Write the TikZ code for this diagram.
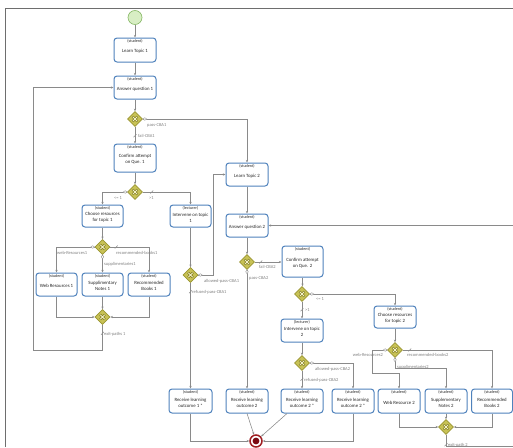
\documentclass[tikz,border=0pt]{standalone}
\usepackage{fontspec}
\setmainfont{Carlito}
\usetikzlibrary{arrows.meta,shapes.geometric,calc}
\definecolor{taskblue}{HTML}{4F82BC}
\definecolor{textc}{HTML}{262626}
\definecolor{flowc}{HTML}{8A8A8A}
\definecolor{lblc}{HTML}{808080}
\definecolor{gwfill}{HTML}{C8C256}
\definecolor{gwborder}{HTML}{9A9530}
\definecolor{gwdark}{HTML}{7F7A1E}
\definecolor{gwlight}{HTML}{F3F0C6}
\definecolor{endred}{HTML}{A01E22}
\definecolor{enddark}{HTML}{7A0A12}
\definecolor{startfill}{HTML}{D8EEC4}
\definecolor{startborder}{HTML}{86B865}
\definecolor{framec}{HTML}{6E6E6E}
\newcommand\mytask[6]{%
  \node[task, minimum width=#3pt, minimum height=#4pt] (#1) at (#2) {};
  \node[role] (#1r) at ([yshift=-4.2pt]#1.north) {(#5)};
  \node[tname] (#1n) at ([yshift=-1.6pt]#1.center) {#6};
}
\begin{document}
\begin{tikzpicture}[x=1pt,y=-1pt,
  task/.style={draw=taskblue, line width=1pt, rounded corners=3pt, fill=white, inner sep=0pt},
  role/.style={font=\fontsize{4.1}{4.8}\selectfont, text=textc, inner sep=0pt},
  tname/.style={font=\fontsize{4.8}{5.9}\selectfont, text=textc, inner sep=0pt, align=center},
  gw/.style={diamond, draw=gwborder, fill=gwfill, line width=0.6pt, minimum size=15pt, inner sep=0pt},
  flow/.style={draw=flowc, line width=0.55pt, -{Stealth[length=2.6pt,width=2.2pt]}},
  lbl/.style={font=\fontsize{4.5}{5}\selectfont, text=lblc, inner sep=0pt},
  condh/.pic={\draw[flowc, fill=white, line width=0.35pt] (-2,0) -- (0,-1.3) -- (2,0) -- (0,1.3) -- cycle;},
  condv/.pic={\draw[flowc, fill=white, line width=0.35pt] (0,-2) -- (1.3,0) -- (0,2) -- (-1.3,0) -- cycle;},
  dflt/.pic={\draw[flowc, line width=0.45pt] (-1.4,1.4) -- (1.4,-1.4);}
]
\useasboundingbox (0,0) rectangle (513,447);
\fill[white] (0,0) rectangle (513,447);
\clip (0,0) rectangle (513,447);
\draw[framec, line width=0.8pt] (5,447) -- (5,8) -- (513,8);

% events
\node[circle, draw=startborder, fill=startfill, line width=0.6pt, minimum size=14pt, inner sep=0pt] (start) at (135,17.5) {};
\node[circle, draw=endred, fill=white, line width=1.5pt, minimum size=12pt, inner sep=0pt] (end) at (256,441) {};
\fill[enddark] (end.center) circle (3.4pt);

% tasks
\mytask{lt1}{135,50}{42}{24}{student}{Learn Topic 1}
\mytask{aq1}{135,87.5}{42}{23}{student}{Answer question 1}
\mytask{cq1}{135,158}{42}{28}{student}{Confirm attempt\\on Que. 1}
\mytask{cr1}{102.5,216}{41}{22}{student}{Choose resources\\for topic 1}
\mytask{it1}{190.5,216}{41}{22}{lecturer}{Intervene on topic\\1}
\mytask{wr1}{56.5,284.5}{41}{23}{student}{Web Resources 1}
\mytask{sn1}{102.5,284.5}{41}{23}{student}{Supplimentary\\Notes 1}
\mytask{rb1}{149,284.5}{42}{23}{student}{Recommended\\Books 1}
\mytask{lt2}{247,174.5}{42}{23}{student}{Learn Topic 2}
\mytask{aq2}{247,225.5}{42}{23}{student}{Answer question 2}
\mytask{cq2}{302.5,261.5}{41}{31}{student}{Confirm attempt\\on Que. 2}
\mytask{it2}{302,330.5}{42}{23}{lecturer}{Intervene on topic\\2}
\mytask{cr2}{395,317}{42}{22}{student}{Choose resources\\for topic 2}
\mytask{wr2}{399,401}{42}{24}{student}{Web Resource 2}
\mytask{sn2}{446,401}{42}{24}{student}{Supplementary\\Notes 2}
\mytask{rb2}{492,401}{41}{24}{student}{Recommended\\Books 2}
\mytask{rlo1s}{190.5,401}{43}{24}{student}{Receive learning\\outcome 1 *}
\mytask{rlo2}{247,401}{42}{24}{student}{Receive learning\\outcome 2}
\mytask{rlo2sa}{302,401}{42}{24}{student}{Receive learning\\outcome 2 *}
\mytask{rlo2sb}{353,401}{42}{24}{student}{Receive learning\\outcome 2 *}

% gateways
\node[gw] (g1) at (135,119) {};
\node[gw] (g2) at (135,192) {};
\node[gw] (g3) at (102.5,247) {};
\node[gw] (ge1) at (102.5,317) {};
\node[gw] (gi1) at (190.5,275) {};
\node[gw] (g5) at (247,262) {};
\node[gw] (g6) at (302,294) {};
\node[gw] (g9) at (302,363) {};
\node[gw] (g7) at (395,350) {};
\node[gw] (g8) at (446,427) {};
\foreach \g in {g1,g2,g3,ge1,gi1,g5,g6,g9,g7,g8} {
  \draw[gwdark, line width=2.3pt] ([shift={(-2.4,-2.4)}]\g.center) -- ([shift={(2.4,2.4)}]\g.center)
       ([shift={(-2.4,2.4)}]\g.center) -- ([shift={(2.4,-2.4)}]\g.center);
  \draw[gwlight, line width=0.9pt] ([shift={(-2.2,-2.2)}]\g.center) -- ([shift={(2.2,2.2)}]\g.center)
       ([shift={(-2.2,2.2)}]\g.center) -- ([shift={(2.2,-2.2)}]\g.center);
}

% helper coordinates
\coordinate (lp1) at (33,350);
\coordinate (lp2) at (213,174.5);
\coordinate (lp3) at (372,373);
\coordinate (lp4) at (395,368);
\coordinate (lp5) at (530,446);

% flows
\draw[flow] (start) -- (lt1);
\draw[flow] (lt1) -- (aq1);
\draw[flow] (aq1) -- (g1);
\draw[flow] (g1) -- (cq1);
\draw[flow] (g1.east) -| (lt2.north);
\draw[flow] (cq1) -- (g2);
\draw[flow] (g2.west) -| (cr1.north);
\draw[flow] (g2.east) -| (it1.north);
\draw[flow] (cr1) -- (g3);
\draw[flow] (g3.west) -| (wr1.north);
\draw[flow] (g3) -- (sn1);
\draw[flow] (g3.east) -| (rb1.north);
\draw[flow] (wr1.south) |- (ge1.west);
\draw[flow] (sn1) -- (ge1);
\draw[flow] (rb1.south) |- (ge1.east);
\draw[flow] (ge1.south) |- (lp1) |- (aq1.west);
\draw[flow] (it1) -- (gi1);
\draw[flow] (gi1.east) -| (lp2) -- (lt2.west);
\draw[flow] (gi1) -- (rlo1s);
\draw[flow] (lt2) -- (aq2);
\draw[flow] (aq2) -- (g5);
\draw[flow] (g5) -- (g5 -| cq2.west);
\draw[flow] (g5) -- (rlo2);
\draw[flow] (cq2) -- (cq2 |- g6.north);
\draw[flow] (g6.east) -| (cr2.north);
\draw[flow] (g6) -- (it2);
\draw[flow] (it2) -- (g9);
\draw[flow] (g9.east) -| (rlo2sb.north);
\draw[flow] (g9) -- (rlo2sa);
\draw[flow] (cr2) -- (g7);
\draw[flow] (g7.west) -| (lp3) -| (wr2.north);
\draw[flow] (g7.south) -- (lp4) -| (sn2.north);
\draw[flow] (g7.east) -| (rb2.north);
\draw[flow] (wr2.south) |- (g8.west);
\draw[flow] (sn2) -- (g8);
\draw[flow] (rb2.south) |- (g8.east);
\draw[flow] (g8.south) |- (lp5) |- (aq2.east);
\draw[flow] (rlo1s.south) |- (end.west);
\draw[flow] (rlo2.south) -- (end);
\draw[flow] ([xshift=-15pt]rlo2sa.south) -- (end);
\draw[flow] (rlo2sb.south) |- (end.east);

% flow markers
\pic at ([xshift=2pt]g1.east) {condh};
\pic at ([xshift=-2pt]g2.west) {condh};
\pic at ([xshift=-2pt]g3.west) {condh};
\pic at ([yshift=-2pt]g3.south) {condv};
\pic at ([xshift=2pt]gi1.east) {condh};
\pic at ([yshift=-2pt]g5.south) {condv};
\pic at ([xshift=2pt]g6.east) {condh};
\pic at ([xshift=2pt]g9.east) {condh};
\pic at ([xshift=-2pt]g7.west) {condh};
\pic at ([yshift=-2pt]g7.south) {condv};
\pic at ([yshift=-9pt]g1.south) {dflt};
\pic at ([xshift=9pt]g2.east) {dflt};
\pic at ([xshift=6pt]g3.east) {dflt};
\pic at ([yshift=-8.5pt]ge1.south) {dflt};
\pic at ([yshift=-9pt]gi1.south) {dflt};
\pic at ([xshift=6pt]g5.east) {dflt};
\pic at ([yshift=-8pt]g6.south) {dflt};
\pic at ([yshift=-8.5pt]g9.south) {dflt};
\pic at ([xshift=7pt]g7.east) {dflt};
\pic at ([yshift=-10pt]g8.south) {dflt};

% labels
\node[lbl, anchor=west] (l1) at (147,125) {pass-CBA1};
\node[lbl, anchor=west] (l2) at (138,136) {fail-CBA1};
\node[lbl] (l3) at (118,198) {<= 1};
\node[lbl, anchor=west] (l4) at (149,198) {>1};
\node[lbl, anchor=west] (l5) at (57,253) {web-Resources1};
\node[lbl, anchor=west] (l6) at (116,253) {recommended-books1};
\node[lbl, anchor=west] (l7) at (104,264) {supplimentaries1};
\node[lbl, anchor=west] (l8) at (104,334) {exit-paths 1};
\node[lbl, anchor=west] (l9) at (204,281) {allowed-pass-CBA1};
\node[lbl, anchor=west] (l10) at (192,292) {refused-pass-CBA1};
\node[lbl, anchor=west] (l11) at (259,267) {fail-CBA2};
\node[lbl, anchor=west] (l12) at (249,278) {pass-CBA2};
\node[lbl, anchor=west] (l13) at (316,299) {<= 1};
\node[lbl, anchor=west] (l14) at (305,310) {>1};
\node[lbl, anchor=west] (l15) at (315,369) {allowed-pass-CBA2};
\node[lbl, anchor=west] (l16) at (304,380) {refused-pass-CBA2};
\node[lbl, anchor=east] (l17) at (383,355) {web-Resources2};
\node[lbl, anchor=west] (l18) at (407,355) {recommended-books2};
\node[lbl, anchor=west] (l19) at (397,367) {supplimentaries2};
\node[lbl, anchor=west] (l20) at (448,445) {exit-path 2};
\end{tikzpicture}
\end{document}
